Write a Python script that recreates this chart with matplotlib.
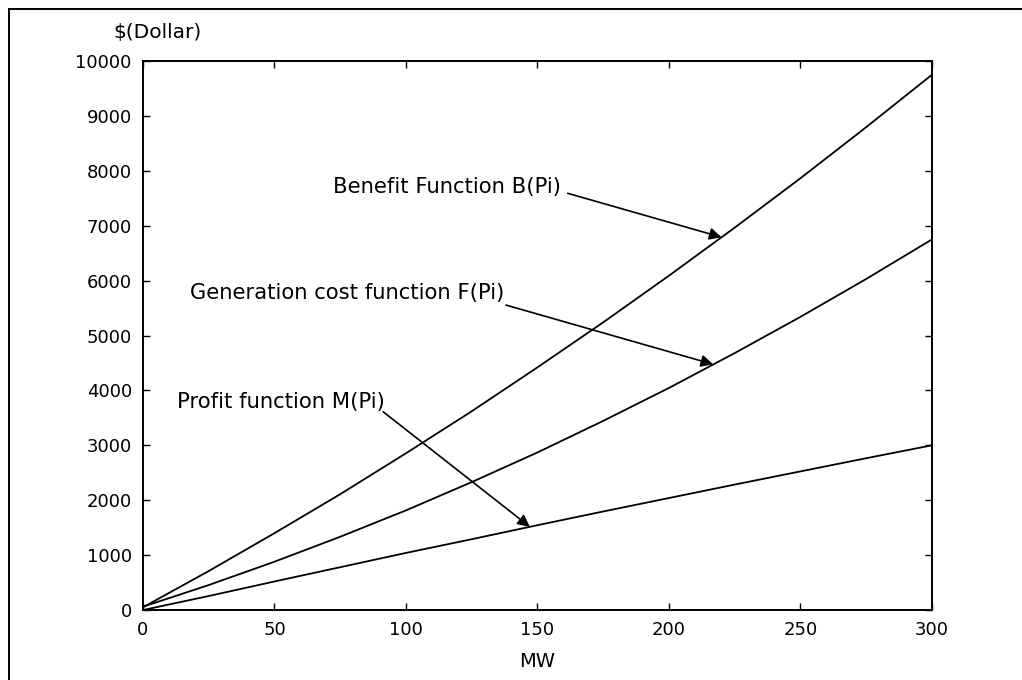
"""
Benefit, generation cost and profit of a generating unit versus output (MW).
"""

import matplotlib

matplotlib.use("Agg")
import matplotlib.pyplot as plt
from matplotlib.lines import Line2D


# Output levels (MW) and the three curves read at those levels ($)
POWER_MW = [0, 25, 50, 75, 100, 125, 150, 175, 200, 225, 250, 275, 300]
BENEFIT = [50, 710, 1400, 2110, 2855, 3620, 4420, 5240, 6090, 6965, 7865, 8795, 9750]
GEN_COST = [60, 455, 880, 1335, 1815, 2330, 2870, 3445, 4045, 4680, 5340, 6030, 6750]
PROFIT = [0, 255, 520, 780, 1040, 1290, 1545, 1795, 2040, 2285, 2525, 2765, 3000]

X_TICKS = [0, 50, 100, 150, 200, 250, 300]
Y_TICKS = [0, 1000, 2000, 3000, 4000, 5000, 6000, 7000, 8000, 9000, 10000]

# Annotation text and where each arrow lands on its curve
LABELS = [
    ("Benefit Function B(Pi)", (72.2, 7705), (161.5, 7590), (220.0, 6790)),
    ("Generation cost function F(Pi)", (17.9, 5775), (138.0, 5555), (216.8, 4475)),
    ("Profit function M(Pi)", (12.8, 3795), (91.3, 3612), (147.1, 1515)),
]

FONT = "DejaVu Sans"
TICK_FS = 13
TEXT_FS = 15.2


def main():
    plt.rcParams["font.family"] = FONT
    fig = plt.figure(figsize=(10.22, 6.80), dpi=100)
    ax = fig.add_axes([0.1399, 0.1029, 0.9119 - 0.1399, 0.9103 - 0.1029])

    for series in (BENEFIT, GEN_COST, PROFIT):
        ax.plot(POWER_MW, series, color="black", lw=1.3, solid_capstyle="round")

    ax.set_xlim(0, 300)
    ax.set_ylim(0, 10000)
    ax.set_xticks(X_TICKS)
    ax.set_yticks(Y_TICKS)
    ax.tick_params(direction="in", length=5, width=1.0, top=True, right=True,
                   labelsize=TICK_FS, pad=8)
    for spine in ax.spines.values():
        spine.set_linewidth(1.4)

    ax.set_xlabel("MW", fontsize=14)
    ax.xaxis.set_label_coords(0.5, -0.076)
    ax.text(0.018, 1.052, r"\$(Dollar)", transform=ax.transAxes,
            ha="center", va="center", fontsize=14.5)

    for text, pos, start, tip in LABELS:
        ax.text(pos[0], pos[1], text, ha="left", va="center", fontsize=TEXT_FS)
        ax.annotate("", xy=tip, xytext=start,
                    arrowprops=dict(arrowstyle="-|>", color="black", lw=1.2,
                                    mutation_scale=18, shrinkA=0, shrinkB=0))

    # page frame around the plot (left and top edges)
    x0, y0 = 9 / 1022, 1 - 9 / 680
    fig.add_artist(Line2D([x0, x0], [0, y0], color="black", lw=1.4))
    fig.add_artist(Line2D([x0, 1], [y0, y0], color="black", lw=1.4))

    fig.savefig("out.png", dpi=100)
    plt.close(fig)


if __name__ == "__main__":
    main()
